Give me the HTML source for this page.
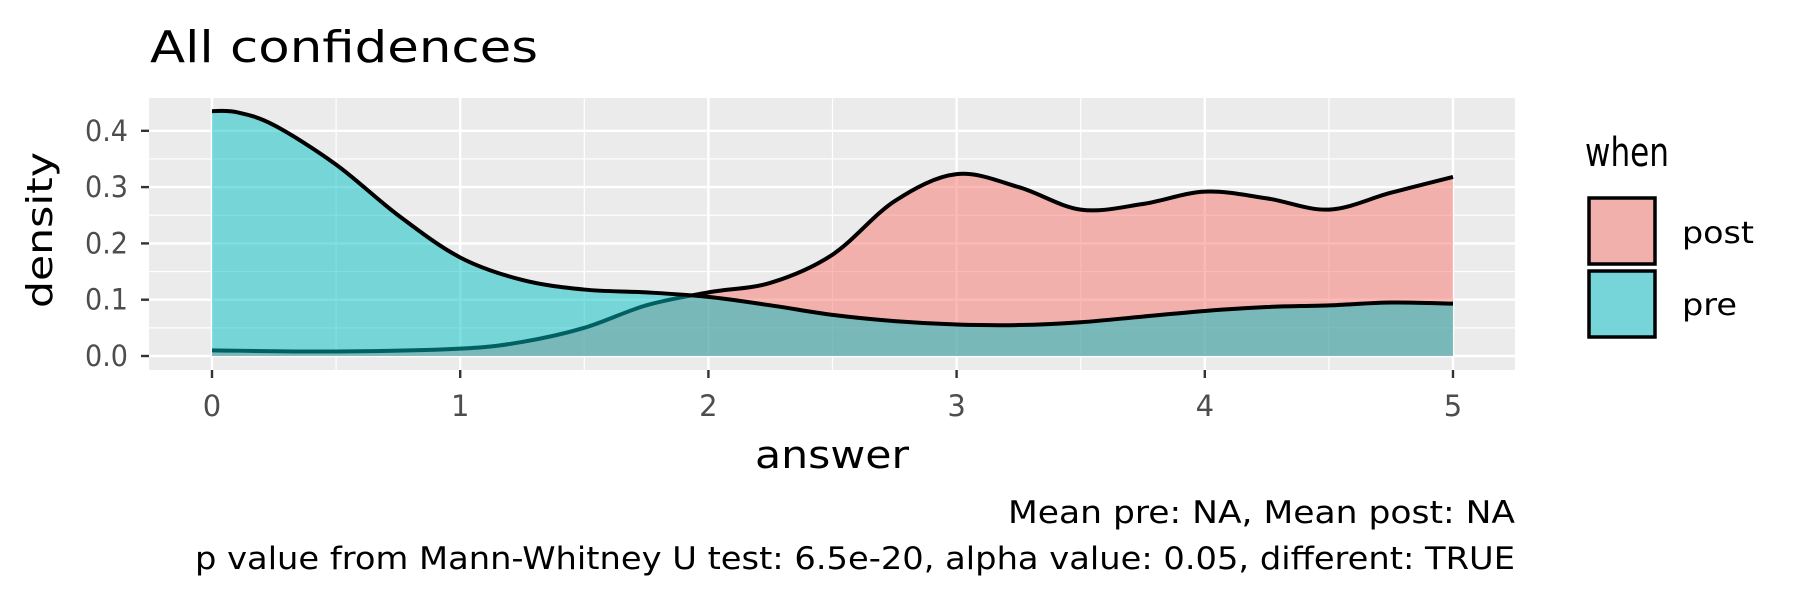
<!DOCTYPE html>
<html><head><meta charset="utf-8"><style>body{margin:0;background:#fff}svg{display:block}text{font-family:"DejaVu Sans","Liberation Sans",sans-serif}</style></head>
<body>
<svg id="s" width="1800" height="600" xmlns="http://www.w3.org/2000/svg">
<rect width="1800" height="600" fill="#fff"/>
<text x="150" y="62" style="font-size:44px" fill="#000" textLength="388" lengthAdjust="spacingAndGlyphs">All confidences</text>
<rect x="149" y="98" width="1366" height="272" fill="#EBEBEB"/>
<g id="grid"></g>
<g id="curves"></g>
<g id="yl" fill="#4D4D4D" style="font-size:29px" text-anchor="end"></g>
<g id="xl" fill="#4D4D4D" style="font-size:29px" text-anchor="middle"></g>
<text x="832" y="468" style="font-size:38px" text-anchor="middle" textLength="154" lengthAdjust="spacingAndGlyphs">answer</text>
<text transform="translate(52,230) rotate(-90)" style="font-size:36px" text-anchor="middle" textLength="156" lengthAdjust="spacingAndGlyphs">density</text>
<text x="1585" y="166" style="font-size:40px" textLength="84" lengthAdjust="spacingAndGlyphs">when</text>
<rect x="1589" y="198" width="66" height="66" fill="#F1B0AC" stroke="#000" stroke-width="3.5"/>
<rect x="1589" y="271" width="66" height="66" fill="#76D5D8" stroke="#000" stroke-width="3.5"/>
<text x="1682" y="243" style="font-size:30px" textLength="72" lengthAdjust="spacingAndGlyphs">post</text>
<text x="1682" y="315" style="font-size:30px" textLength="55" lengthAdjust="spacingAndGlyphs">pre</text>
<text x="1515" y="523" style="font-size:31px" text-anchor="end" textLength="507" lengthAdjust="spacingAndGlyphs">Mean pre: NA, Mean post: NA</text>
<text x="1515" y="569" style="font-size:31px" text-anchor="end" textLength="1320" lengthAdjust="spacingAndGlyphs">p value from Mann-Whitney U test: 6.5e-20, alpha value: 0.05, different: TRUE</text>
</svg>
<script>
var NS="http://www.w3.org/2000/svg";
function el(p,t,a){var e=document.createElementNS(NS,t);for(var k in a)e.setAttribute(k,a[k]);p.appendChild(e);return e;}
function X(x){return 212+248.2*x;} function Y(y){return 356-563*y;}
var g=document.getElementById('grid');
for(var i=0;i<9;i++){var y=Y(i*0.05);el(g,'line',{x1:149,x2:1515,y1:y,y2:y,stroke:'#fff','stroke-width':i%2?1.2:2.4});}
for(var i=0;i<11;i++){var x=X(i*0.5);el(g,'line',{x1:x,x2:x,y1:98,y2:370,stroke:'#fff','stroke-width':i%2?1.2:2.4});}
var yl=document.getElementById('yl'),xl=document.getElementById('xl');
for(var i=0;i<5;i++){var y=Y(i*0.1);el(g,'line',{x1:141,x2:149,y1:y,y2:y,stroke:'#333','stroke-width':2.4});
 var t=el(yl,'text',{x:128,y:y+10,textLength:43,lengthAdjust:'spacingAndGlyphs'});t.textContent=(i/10).toFixed(1);}
for(var i=0;i<6;i++){var x=X(i);el(g,'line',{x1:x,x2:x,y1:370,y2:378,stroke:'#333','stroke-width':2.4});
 var t=el(xl,'text',{x:x,y:416});t.textContent=i;}
var pre=[[0,.435],[.1,.433],[.25,.41],[.5,.34],[.75,.25],[1,.175],[1.25,.135],[1.5,.118],[1.75,.113],[2,.105],[2.25,.09],[2.5,.073],[2.75,.062],[3,.056],[3.25,.055],[3.5,.06],[3.75,.07],[4,.08],[4.25,.087],[4.5,.09],[4.75,.095],[5,.093]];
var post=[[0,.01],[.5,.008],[1,.013],[1.25,.025],[1.5,.05],[1.75,.09],[2,.113],[2.25,.13],[2.5,.18],[2.75,.275],[3,.323],[3.25,.3],[3.5,.26],[3.75,.27],[4,.292],[4.25,.28],[4.5,.26],[4.75,.29],[5,.318]];
function cr(q){var p=q.map(function(a){return [X(a[0]),Y(a[1])];});var d="M"+p[0][0]+","+p[0][1];for(var i=0;i<p.length-1;i++){var a=p[Math.max(0,i-1)],b=p[i],c=p[i+1],e=p[Math.min(p.length-1,i+2)];
d+=" C"+(b[0]+(c[0]-a[0])/6)+","+(b[1]+(c[1]-a[1])/6)+" "+(c[0]-(e[0]-b[0])/6)+","+(c[1]-(e[1]-b[1])/6)+" "+c[0]+","+c[1];}return d;}
var c=document.getElementById('curves');
var dp=cr(post),dr=cr(pre),base=" L"+X(5)+","+Y(0)+" L"+X(0)+","+Y(0)+" Z";
el(c,'path',{d:dp+base,fill:'#F8766D','fill-opacity':0.5});
el(c,'path',{d:dp,fill:'none',stroke:'#000','stroke-width':4});
el(c,'path',{d:dr+base,fill:'#00BFC4','fill-opacity':0.5});
el(c,'path',{d:dr,fill:'none',stroke:'#000','stroke-width':4});
</script>
</body></html>
